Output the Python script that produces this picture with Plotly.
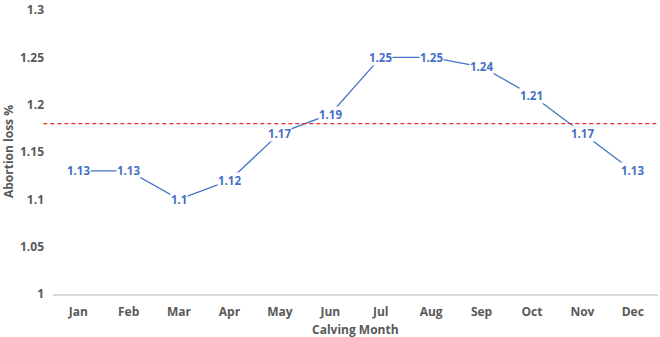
import plotly.graph_objects as go

months = ["Jan", "Feb", "Mar", "Apr", "May", "Jun", "Jul", "Aug", "Sep", "Oct", "Nov", "Dec"]
abortion_loss = [1.13, 1.13, 1.10, 1.12, 1.17, 1.19, 1.25, 1.25, 1.24, 1.21, 1.17, 1.13]
reference_level = 1.18
y_ticks = [1.0, 1.05, 1.1, 1.15, 1.2, 1.25, 1.3]
y_tick_labels = ["1", "1.05", "1.1", "1.15", "1.2", "1.25", "1.3"]

BLUE = "#4472C4"
FONT = "Open Sans"

fig = go.Figure()
fig.add_trace(go.Scatter(
    x=months, y=abortion_loss, mode="lines",
    line=dict(color=BLUE, width=1.3), hoverinfo="x+y", showlegend=False,
))

for m, v in zip(months, abortion_loss):
    fig.add_annotation(
        x=m, y=v, text=f"<b>{v:g}</b>", showarrow=False,
        font=dict(family=FONT, size=11.5, color=BLUE),
        bgcolor="white", borderpad=0, xanchor="center", yanchor="middle",
    )

fig.add_shape(type="line", xref="paper", yref="y", x0=-0.016, x1=1, y0=reference_level, y1=reference_level,
              line=dict(color="#E8302A", width=1.2, dash="4px,3px"))

fig.add_annotation(xref="paper", yref="paper", x=0.5, y=0, yshift=-35, text="<b>Calving Month</b>",
                   showarrow=False, font=dict(family=FONT, size=12, color="#595959"), yanchor="middle")
fig.add_annotation(xref="paper", yref="paper", x=0, xshift=-45, y=0.5, text="<b>Abortion loss %</b>",
                   textangle=-90, showarrow=False, font=dict(family=FONT, size=12, color="#595959"), xanchor="center")

fig.update_layout(
    width=660, height=337,
    margin=dict(l=53, r=2, t=10, b=43, autoexpand=False),
    paper_bgcolor="white", plot_bgcolor="white",
    font=dict(family=FONT, size=12, color="#595959"),
    xaxis=dict(
        range=[-0.5, 11.5], automargin=False,
        showgrid=False, showline=True, linecolor="#D9D9D9", linewidth=1.5,
        ticks="", tickfont=dict(family=FONT, size=12, color="#595959", weight="bold"),
        ticklabelstandoff=6,
    ),
    yaxis=dict(
        range=[1.0, 1.3], tickvals=y_ticks, ticktext=y_tick_labels, automargin=False,
        showgrid=False, zeroline=False, showline=False, ticks="",
        tickfont=dict(family=FONT, size=12, color="#595959", weight="bold"),
        ticklabelstandoff=8, ticklabeloverflow="allow",
    ),
)

fig.write_html("out.html", config={"displayModeBar": False},
               post_script="document.body.style.margin='0';document.body.style.overflow='hidden';")
